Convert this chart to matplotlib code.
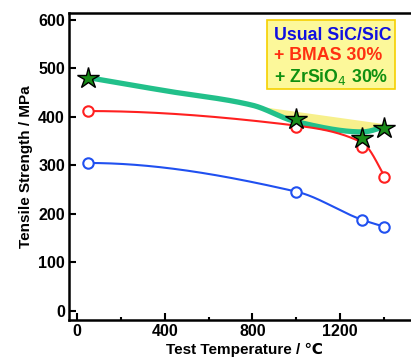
import numpy as np
import matplotlib
matplotlib.use("Agg")
import matplotlib.pyplot as plt

plt.rcParams['font.family'] = ['Liberation Sans', 'DejaVu Sans']

temps = [50, 1000, 1300, 1400]
usual = [305, 246, 188, 174]
bmas = [412, 379, 337, 277]
zrsio4 = [480, 396, 357, 377]

# drawn trend curve of BMAS (passes a little above the 1000/1300 circles)
bmas_curve = [412, 382, 347, 279]

# thick green trend band
band_temps = [50, 400, 800, 1000, 1300, 1400]
band_vals = [481, 454, 424, 390, 369, 380]
# upper edge of the yellow area
yellow_temps = [800, 1400]
yellow_top = [424, 386]

legend_labels = ["Usual SiC/SiC", "+ BMAS 30%", "+ ZrSiO$_4$ 30%"]
xticks = [0, 400, 800, 1200]
yticks = [0, 100, 200, 300, 400, 500, 600]


def pchip(x, y, n=400):
    x = np.asarray(x, float)
    y = np.asarray(y, float)
    h = np.diff(x)
    d = np.diff(y) / h
    m = len(x)
    s = np.zeros(m)
    for i in range(1, m - 1):
        if d[i - 1] * d[i] <= 0:
            s[i] = 0
        else:
            w1 = 2 * h[i] + h[i - 1]
            w2 = h[i] + 2 * h[i - 1]
            s[i] = (w1 + w2) / (w1 / d[i - 1] + w2 / d[i])

    def end(h0, h1, d0, d1):
        v = ((2 * h0 + h1) * d0 - h0 * d1) / (h0 + h1)
        if np.sign(v) != np.sign(d0):
            v = 0
        elif np.sign(d0) != np.sign(d1) and abs(v) > abs(3 * d0):
            v = 3 * d0
        return v
    s[0] = end(h[0], h[1], d[0], d[1])
    s[-1] = end(h[-1], h[-2], d[-1], d[-2])
    xs = np.linspace(x[0], x[-1], n)
    ys = np.empty_like(xs)
    for k, xv in enumerate(xs):
        i = int(np.clip(np.searchsorted(x, xv) - 1, 0, m - 2))
        t = (xv - x[i]) / h[i]
        h00 = 2 * t**3 - 3 * t**2 + 1
        h10 = t**3 - 2 * t**2 + t
        h01 = -2 * t**3 + 3 * t**2
        h11 = t**3 - t**2
        ys[k] = h00 * y[i] + h10 * h[i] * s[i] + h01 * y[i + 1] + h11 * h[i] * s[i + 1]
    return xs, ys


fig = plt.figure(figsize=(4.11, 3.62), dpi=100)
ax = fig.add_axes([69 / 411, 42 / 362, (420 - 69) / 411, (320 - 13) / 362])

# green band with yellow fill
gx, gy = pchip(band_temps, band_vals)
top = np.interp(gx, yellow_temps, yellow_top)
mask = (gx >= yellow_temps[0]) & (gx <= yellow_temps[1]) & (top > gy)
ax.fill_between(gx, gy, top, where=mask, color='#f7f08c', lw=0, zorder=1)
ax.plot(gx, gy, color='#22c08a', lw=3.8, solid_capstyle='round', zorder=2)

rx, ry = pchip(temps, bmas_curve)
ax.plot(rx, ry, color='#ff2020', lw=1.5, zorder=3)
ax.plot(temps, bmas, 'o', ms=7.5, mfc='white', mec='#ff2020', mew=1.5, zorder=4)

bx, by = pchip(temps, usual)
ax.plot(bx, by, color='#2050f0', lw=1.5, zorder=3)
ax.plot(temps, usual, 'o', ms=7.5, mfc='white', mec='#2050f0', mew=1.5, zorder=4)

ax.plot(temps, zrsio4, '*', ms=16, mfc='#1a8c1a', mec='black', mew=1.0, zorder=5)

ax.set_xlim(-36, 1564)
ax.set_ylim(-18.5, 614)
ax.set_xticks(xticks)
ax.set_xticks([200, 600, 1000, 1400], minor=True)
ax.set_yticks(yticks)
ax.tick_params(which='both', direction='in', width=1.5)
ax.tick_params(which='major', length=5, labelsize=11.5, pad=3)
ax.tick_params(which='minor', length=2.5)
for lab in ax.get_xticklabels() + ax.get_yticklabels():
    lab.set_fontweight('bold')
for s in ax.spines.values():
    s.set_linewidth(1.8)

ax.set_xlabel("Test Temperature / ℃", fontsize=11, fontweight='bold', labelpad=3)
ax.set_ylabel("Tensile Strength / MPa", fontsize=11, fontweight='bold', labelpad=4)

# legend box
fig.patches.append(plt.Rectangle((267 / 411, 1 - 89 / 362), (395 - 267) / 411, (89 - 20) / 362,
                                 transform=fig.transFigure, facecolor='#fcf89a',
                                 edgecolor='#f5d000', lw=1.2, zorder=10))
colors = ['#1010e0', '#ff3010', '#109010']
ys_leg = [36, 56, 77]
for lab, c, yp in zip(legend_labels, colors, ys_leg):
    fig.text(274 / 411, 1 - yp / 362, lab, color=c, fontsize=12.8, fontweight='bold',
             va='center', ha='left', zorder=11)

fig.savefig("out.png", dpi=100)
